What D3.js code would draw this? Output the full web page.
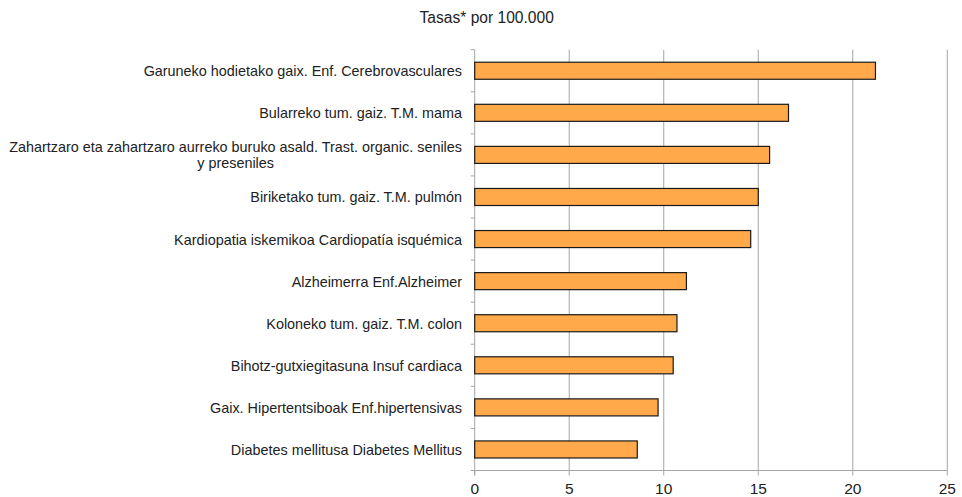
<!DOCTYPE html>
<html><head><meta charset="utf-8">
<script src="https://cdn.jsdelivr.net/npm/d3@7/dist/d3.min.js"></script>
<style>body{margin:0;background:#fff;} text{font-family:"Liberation Sans",Arial,sans-serif;fill:#222;}</style>
</head><body>
<svg id="c" width="962" height="497"></svg>
<script>
const categories = [
  ["Garuneko hodietako gaix. Enf. Cerebrovasculares"],
  ["Bularreko tum. gaiz. T.M. mama"],
  ["Zahartzaro eta zahartzaro aurreko buruko asald. Trast. organic. seniles", "y preseniles"],
  ["Biriketako tum. gaiz. T.M. pulmón"],
  ["Kardiopatia iskemikoa Cardiopatía isquémica"],
  ["Alzheimerra Enf.Alzheimer"],
  ["Koloneko tum. gaiz. T.M. colon"],
  ["Bihotz-gutxiegitasuna Insuf cardiaca"],
  ["Gaix. Hipertentsiboak Enf.hipertensivas"],
  ["Diabetes mellitusa Diabetes Mellitus"]
];
const values = [21.2, 16.6, 15.6, 15.0, 14.6, 11.2, 10.7, 10.5, 9.7, 8.6];
const xTicks = [0, 5, 10, 15, 20, 25];
const title = "Tasas* por 100.000";

(function () {
const svg = d3.select("#c");
const pL = 474.7, pR = 947.3, pT = 49.7, pB = 470.5;
const x = d3.scaleLinear().domain([0, 25]).range([pL, pR]);
const y = d3.scaleBand().domain(d3.range(categories.length)).range([pT, pB]).paddingInner(0.595).paddingOuter(0.2975);

// gridlines
svg.append("g").selectAll("line").data(xTicks.slice(1)).join("line")
  .attr("x1", d => x(d)).attr("x2", d => x(d)).attr("y1", pT).attr("y2", pB)
  .attr("stroke", "#a6a6a6").attr("stroke-width", 1);

// left axis line and ticks
svg.append("line").attr("x1", pL).attr("x2", pL).attr("y1", pT).attr("y2", pB + 5)
  .attr("stroke", "#a6a6a6");
const bandStep = (pB - pT) / categories.length;
svg.append("g").selectAll("line").data(d3.range(categories.length + 1)).join("line")
  .attr("x1", pL - 4).attr("x2", pL).attr("y1", d => pT + d * bandStep).attr("y2", d => pT + d * bandStep)
  .attr("stroke", "#a6a6a6");

// bottom axis
svg.append("line").attr("x1", pL - 4).attr("x2", pR).attr("y1", pB).attr("y2", pB).attr("stroke", "#a6a6a6");
svg.append("g").selectAll("line").data(xTicks).join("line")
  .attr("x1", d => x(d)).attr("x2", d => x(d)).attr("y1", pB).attr("y2", pB + 5).attr("stroke", "#a6a6a6");
svg.append("g").selectAll("text").data(xTicks).join("text")
  .attr("x", d => x(d)).attr("y", 493.5).attr("text-anchor", "middle")
  .style("font-size", "15.5px").text(d => d);

// bars
svg.append("g").selectAll("rect").data(values).join("rect")
  .attr("x", x(0)).attr("y", (d, i) => y(i)).attr("width", d => x(d) - x(0)).attr("height", y.bandwidth())
  .attr("fill", "#ffa94b").attr("stroke", "#1a1a1a").attr("stroke-width", 1.2);

// category labels
const lab = svg.append("g");
const fs = "14.4px";
categories.forEach((lines, i) => {
  const cy = y(i) + y.bandwidth() / 2;
  const lh = 16.5;
  const t = lab.append("text").attr("text-anchor", "end").style("font-size", fs);
  if (lines.length === 1) {
    t.attr("x", 462).attr("y", cy + 5.5).text(lines[0]);
  } else {
    t.attr("x", 462).attr("y", cy - 3).text(lines[0]);
    const w = t.node().getComputedTextLength();
    lines.slice(1).forEach((l, k) => {
      lab.append("text").attr("text-anchor", "middle").style("font-size", fs)
        .attr("x", 462 - w / 2).attr("y", cy - 3 + lh * (k + 1)).text(l);
    });
  }
});

svg.append("text").attr("x", 486.7).attr("y", 23.3).attr("text-anchor", "middle").style("font-size", "15.6px").text(title);
})();
</script>
</body></html>
